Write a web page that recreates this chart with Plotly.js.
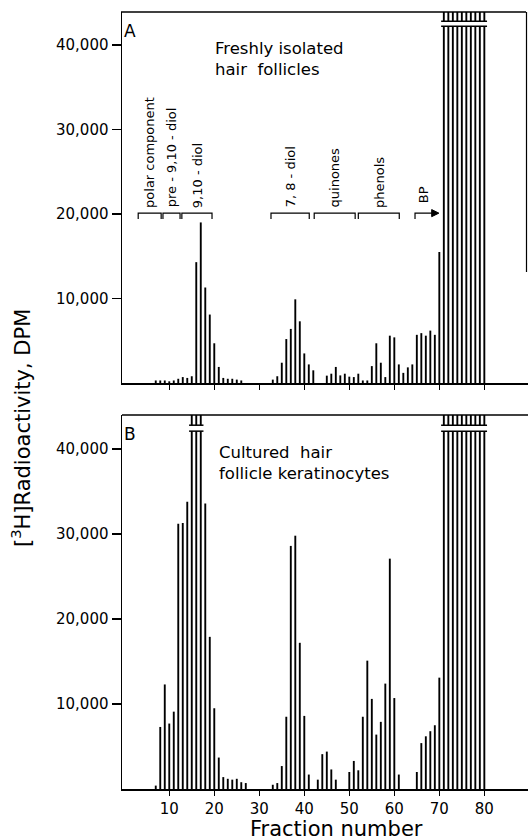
<!DOCTYPE html>
<html><head><meta charset="utf-8">
<script src="https://cdn.plot.ly/plotly-3.0.1.min.js"></script>
<style>html,body{margin:0;padding:0;background:#fff}#chart{width:528px;height:840px}</style>
</head><body><div id="chart"></div>
<script>
// Panel A: freshly isolated hair follicles (fraction number, DPM)
const fracA = [7,8,9,10,11,12,13,14,15,16,17,18,19,20,21,22,23,24,25,26,
  33,34,35,36,37,38,39,40,41,42,
  45,46,47,48,49,50,51,52,53,54,55,56,57,58,59,60,61,62,63,64,65,66,67,68,69,70];
const valA = [300,300,300,200,300,500,700,600,800,14300,19000,11300,8100,4700,1900,600,500,500,400,300,
  400,800,2400,5200,6400,9900,7300,3500,2200,1500,
  870,1100,1900,900,1100,750,700,1100,300,300,2000,4700,2400,700,5600,5400,2200,1200,1850,2200,5700,5900,5600,6200,5700,15500];
const offA = [71,72,73,74,75,76,77,78,79,80];   // off-scale fractions

// Panel B: cultured hair follicle keratinocytes
const fracB = [7,8,9,10,11,12,13,14,18,19,20,21,22,23,24,25,26,27,
  33,34,35,36,37,38,39,40,41,43,44,45,46,47,
  50,51,52,53,54,55,56,57,58,59,60,61,
  65,66,67,68,69,70];
const valB = [400,7300,12300,7700,9100,31200,31300,33800,33600,17900,9500,3700,1400,1200,1100,1200,800,700,
  500,700,2700,8500,28600,29800,17200,8600,1700,1100,4100,4400,2300,1100,
  2000,3300,2200,8500,15100,10600,6400,7900,12400,27100,10700,1700,
  2000,5400,6200,6800,7500,13100];
const offB = [15,16,17,71,72,73,74,75,76,77,78,79,80];

const yTicks = [10000,20000,30000,40000];
const xTicks = [10,20,30,40,50,60,70,80];

// Peak identification brackets (panel A), in fraction numbers
const groupNames = ['polar component','pre - 9,10 - diol','9,10 - diol','7, 8 - diol','quinones','phenols'];
const groupFrom  = [3.1, 8.6, 12.8, 32.6, 42.2, 52.0];
const groupTo    = [8.2, 12.4, 19.5, 41.1, 51.3, 61.1];
const bpName = 'BP';
const bpFrom = 64.6, bpTo = 69.9;

// ---------- drawing ----------
const W = 528, H = 840;
const FONT = 'DejaVu Sans, sans-serif';
const yMaxA = 43900, yMaxB = 44000;
const px = p => p / W, py = p => 1 - p / H;
const BARW = 0.42;

function bar(x, y, xa, ya) {
  return {type:'bar', x:x, y:y, xaxis:xa, yaxis:ya, width:BARW,
          marker:{color:'#000', line:{width:0}}, hoverinfo:'x+y'};
}
const traces = [
  bar(fracA, valA, 'x', 'y'),
  bar(offA, offA.map(() => yMaxA), 'x', 'y'),
  bar(fracB, valB, 'x2', 'y2'),
  bar(offB, offB.map(() => yMaxB), 'x2', 'y2')
];

function xAxis(anchor, labels) {
  return {domain:[px(122), 1], range:[-0.5, 89.7], anchor:anchor,
    showline:true, linewidth:1.5, linecolor:'#000', zeroline:false, showgrid:false,
    ticks:'outside', ticklen:5, tickwidth:1.5, tickcolor:'#000',
    tickmode:'array', tickvals:xTicks, showticklabels:labels,
    tickfont:{family:FONT, size:15, color:'#000'}};
}
function yAxis(anchor, dom, ymax) {
  return {domain:dom, range:[0, ymax], anchor:anchor,
    showline:true, linewidth:1.5, linecolor:'#000', zeroline:false, showgrid:false,
    ticks:'outside', ticklen:9, tickwidth:1.5, tickcolor:'#000',
    tickmode:'array', tickvals:yTicks, tickformat:',d',
    tickfont:{family:FONT, size:15, color:'#000'}};
}

// contiguous runs of off-scale fractions -> break marks
function runs(list) {
  const out = []; let s = list[0], p = list[0];
  for (let i = 1; i <= list.length; i++) {
    if (i < list.length && list[i] === p + 1) { p = list[i]; continue; }
    out.push([s, p]); if (i < list.length) { s = list[i]; p = list[i]; }
  }
  return out;
}
const shapes = [];
function breaks(list, xr, yr, lo, hi) {
  runs(list).forEach(([a, b]) => {
    shapes.push({type:'rect', xref:xr, yref:yr, x0:a-0.45, x1:b+0.45, y0:lo, y1:hi,
      fillcolor:'#fff', line:{width:0}, layer:'above'});
    [lo, hi].forEach(v => shapes.push({type:'line', xref:xr, yref:yr, x0:a-0.6, x1:b+0.6, y0:v, y1:v,
      line:{color:'#000', width:1.5}, layer:'above'}));
  });
}
breaks(offA, 'x', 'y', 42200, 42800);
breaks(offB, 'x2', 'y2', 42100, 42800);

// frame lines
shapes.push({type:'line', xref:'paper', yref:'paper', x0:px(121), x1:px(526), y0:py(12), y1:py(12), line:{color:'#000', width:1.5}});
shapes.push({type:'line', xref:'paper', yref:'paper', x0:px(526.5), x1:px(526.5), y0:py(12), y1:py(272), line:{color:'#000', width:1.2}});
shapes.push({type:'line', xref:'paper', yref:'paper', x0:px(122), x1:px(528), y0:py(415), y1:py(415), line:{color:'#000', width:1.5}});

// brackets
const brTop = 20100, brEnd = 19400;
groupNames.forEach((n, i) => {
  shapes.push({type:'path', xref:'x', yref:'y',
    path:`M ${groupFrom[i]},${brEnd} L ${groupFrom[i]},${brTop} L ${groupTo[i]},${brTop} L ${groupTo[i]},${brEnd}`,
    line:{color:'#000', width:1.2}});
});
// BP arrow: start tick, shaft, filled head
shapes.push({type:'path', xref:'x', yref:'y',
  path:`M ${bpFrom},${brEnd} L ${bpFrom},${brTop} L ${bpTo-1.2},${brTop}`, line:{color:'#000', width:1.2}});
shapes.push({type:'path', xref:'x', yref:'y',
  path:`M ${bpTo-1.6},${brTop+420} L ${bpTo},${brTop} L ${bpTo-1.6},${brTop-420} Z`,
  fillcolor:'#000', line:{color:'#000', width:1}});

const ann = [];
groupNames.forEach((n, i) => {
  ann.push({xref:'x', yref:'y', x:(groupFrom[i]+groupTo[i])/2, y:20500, text:n, textangle:-90,
    showarrow:false, xanchor:'center', yanchor:'bottom', font:{family:FONT, size:13, color:'#000'}});
});
ann.push({xref:'x', yref:'y', x:bpFrom+1.8, y:21000, text:bpName, textangle:-90,
  showarrow:false, xanchor:'center', yanchor:'bottom', font:{family:FONT, size:13, color:'#000'}});

ann.push({xref:'paper', yref:'paper', x:px(122), y:py(31), text:'A', showarrow:false,
  xanchor:'left', yanchor:'middle', font:{family:FONT, size:17, color:'#000'}});
ann.push({xref:'paper', yref:'paper', x:px(122), y:py(434), text:'B', showarrow:false,
  xanchor:'left', yanchor:'middle', font:{family:FONT, size:17, color:'#000'}});
ann.push({xref:'paper', yref:'paper', x:px(213), y:py(37), text:'Freshly isolated<br>hair  follicles',
  showarrow:false, xanchor:'left', yanchor:'top', align:'left', font:{family:FONT, size:16.5, color:'#000'}});
ann.push({xref:'paper', yref:'paper', x:px(217), y:py(441), text:'Cultured  hair<br>follicle keratinocytes',
  showarrow:false, xanchor:'left', yanchor:'top', align:'left', font:{family:FONT, size:16.5, color:'#000'}});
ann.push({xref:'paper', yref:'paper', x:px(21), y:py(428), text:'[<sup>3</sup>H]Radioactivity, DPM', textangle:-90,
  showarrow:false, xanchor:'center', yanchor:'middle', font:{family:FONT, size:21, color:'#000'}});
ann.push({xref:'paper', yref:'paper', x:px(336), y:py(829), text:'Fraction number',
  showarrow:false, xanchor:'center', yanchor:'middle', font:{family:FONT, size:21, color:'#000'}});

const layout = {
  width:W, height:H, margin:{l:0, r:0, t:0, b:0},
  paper_bgcolor:'#fff', plot_bgcolor:'rgba(0,0,0,0)',
  showlegend:false, barmode:'overlay',
  xaxis:xAxis('y', false),
  yaxis:yAxis('x', [py(383), py(12)], yMaxA),
  xaxis2:xAxis('y2', true),
  yaxis2:yAxis('x2', [py(789), py(415)], yMaxB),
  shapes:shapes, annotations:ann,
  font:{family:FONT, color:'#000'}
};
Plotly.newPlot('chart', traces, layout, {displayModeBar:false, staticPlot:true});
</script></body></html>
